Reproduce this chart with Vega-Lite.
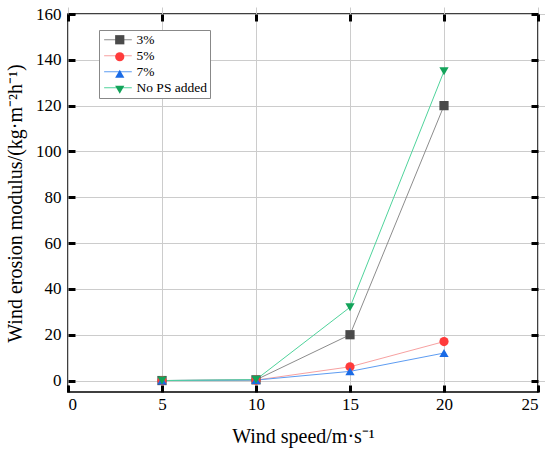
{
  "$schema": "https://vega.github.io/schema/vega-lite/v6.json",
  "width": 470,
  "height": 378,
  "config": {
    "font": "Liberation Serif",
    "view": {"stroke": "black", "strokeWidth": 1.5},
    "axis": {
      "domain": false,
      "offset": -7,
      "ticks": true,
      "tickColor": "#000000",
      "tickOpacity": 1,
      "tickWidth": 3,
      "tickSize": 7,
      "labelFontSize": 17,
      "labelColor": "black",
      "titleFontSize": 20,
      "titleFontWeight": "normal",
      "titleColor": "black",
      "gridColor": "#cccccc",
      "gridWidth": 1
    }
  },
  "data": {
    "values": [
      {"speed": 5, "value": 0, "series": "3%"},
      {"speed": 10, "value": 0.3, "series": "3%"},
      {"speed": 15, "value": 20, "series": "3%"},
      {"speed": 20, "value": 120, "series": "3%"},
      {"speed": 5, "value": 0, "series": "5%"},
      {"speed": 10, "value": 0.2, "series": "5%"},
      {"speed": 15, "value": 6, "series": "5%"},
      {"speed": 20, "value": 17, "series": "5%"},
      {"speed": 5, "value": 0, "series": "7%"},
      {"speed": 10, "value": 0.2, "series": "7%"},
      {"speed": 15, "value": 4, "series": "7%"},
      {"speed": 20, "value": 12, "series": "7%"},
      {"speed": 5, "value": 0, "series": "No PS added"},
      {"speed": 10, "value": 0.4, "series": "No PS added"},
      {"speed": 15, "value": 32, "series": "No PS added"},
      {"speed": 20, "value": 135, "series": "No PS added"}
    ]
  },
  "layer": [
    {
      "mark": {"type": "line", "strokeWidth": 1},
      "encoding": {
        "x": {
          "field": "speed", "type": "quantitative",
          "scale": {"domain": [0, 25], "nice": false, "zero": false},
          "axis": {"values": [0, 5, 10, 15, 20, 25], "title": "Wind speed/m·s⁻¹", "titlePadding": 14, "labelPadding": 4, "grid": true}
        },
        "y": {
          "field": "value", "type": "quantitative",
          "scale": {"domain": [-5, 160], "nice": false, "zero": false},
          "axis": {"values": [0, 20, 40, 60, 80, 100, 120, 140, 160], "title": "Wind erosion modulus/(kg·m⁻²h⁻¹)", "titlePadding": 10, "labelPadding": 7, "grid": true}
        },
        "stroke": {
          "field": "series", "type": "nominal",
          "scale": {"range": ["#8c8c8c", "#f7a1a1", "#5d9cf2", "#4fd39b"]},
          "legend": {
            "orient": "none", "legendX": 31, "legendY": 16,
            "title": null, "symbolType": "M-1,0H5", "symbolSize": 85,
            "symbolStrokeWidth": 1, "labelFontSize": 13.5, "labelColor": "black",
            "labelOffset": 21, "rowPadding": 1, "padding": 3,
            "strokeColor": "#888888", "fillColor": "white"
          }
        }
      }
    },
    {
      "mark": {"type": "point", "filled": true, "opacity": 1, "size": 85},
      "encoding": {
        "x": {"field": "speed", "type": "quantitative", "axis": null},
        "y": {"field": "value", "type": "quantitative", "axis": null},
        "color": {
          "field": "series", "type": "nominal",
          "scale": {"range": ["#4a4a4a", "#ff3b3b", "#1a6be6", "#13a35a"]},
          "legend": {
            "orient": "none", "legendX": 42, "legendY": 16,
            "title": null, "symbolSize": 85, "symbolOpacity": 1,
            "labelFontSize": 13.5, "labelExpr": "' '", "rowPadding": 1, "padding": 3
          }
        },
        "shape": {
          "field": "series", "type": "nominal",
          "scale": {"range": ["square", "circle", "triangle-up", "triangle-down"]}
        }
      }
    },
    {
      "mark": {"type": "point", "opacity": 0},
      "encoding": {
        "x": {"field": "speed", "type": "quantitative", "axis": {"orient": "top", "values": [0, 5, 10, 15, 20, 25], "labels": false, "title": null, "grid": false}},
        "y": {"field": "value", "type": "quantitative", "axis": {"orient": "right", "values": [0, 20, 40, 60, 80, 100, 120, 140, 160], "labels": false, "title": null, "grid": false}}
      }
    }
  ],
  "resolve": {"axis": {"x": "independent", "y": "independent"}}
}
